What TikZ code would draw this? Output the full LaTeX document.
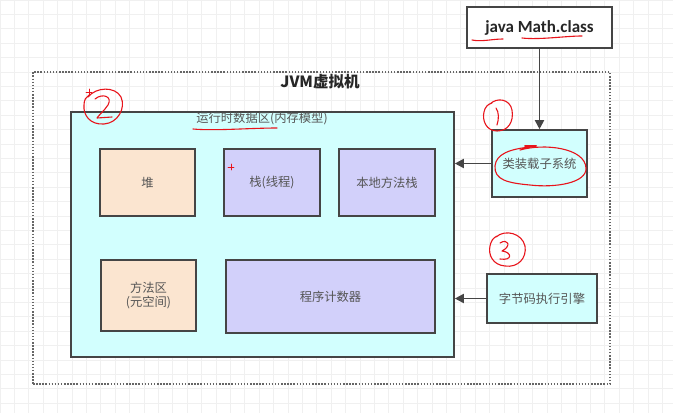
\documentclass[tikz,border=0pt]{standalone}
\usepackage{fontspec}
\setmainfont{Noto Sans CJK SC}
\newfontfamily\latinbold{Carlito}
\usetikzlibrary{arrows.meta}
\definecolor{bordc}{HTML}{454545}
\definecolor{cyanf}{HTML}{D2FFFE}
\definecolor{peachf}{HTML}{FBE5D0}
\definecolor{lavf}{HTML}{D2D0FA}
\definecolor{txtc}{HTML}{555555}
\definecolor{gridc}{HTML}{F0F0F0}
\definecolor{redc}{HTML}{E8141B}
\tikzset{
  box/.style={draw=bordc, line width=1.6pt, inner sep=0pt, font=\fontsize{12.3}{14.5}\selectfont, text=txtc, align=center},
  arr/.style={draw=bordc, line width=1.8pt, -{Triangle[length=9pt,width=9pt]}},
  redpen/.style={draw=redc, line width=1.1pt, line cap=round, line join=round},
}
\begin{document}
\begin{tikzpicture}[x=1pt,y=-1pt]
\useasboundingbox (0,0) rectangle (673,413);
\fill[white] (0,0) rectangle (673,413);
\draw[gridc, line width=0.8pt, step=14.4pt] (0,0) grid (673,413);

% JVM dotted frame
\node[draw=gray!80!black, line width=1.6pt, dash pattern=on 1.5pt off 1.6pt, minimum width=577pt, minimum height=312pt, inner sep=0pt] (jvm) at (321.5,228) {};
\node[font=\bfseries\fontsize{15.5}{17}\selectfont, text=black!85] (jvmlbl) at (320,82) {JVM虚拟机};

% runtime data area
\node[box, fill=cyanf, minimum width=383pt, minimum height=245pt] (rt) at (262.5,234.5) {};
\node[font=\fontsize{12.3}{14}\selectfont, text=txtc] (rtlbl) at (262,119) {运行时数据区(内存模型)};

\node[box, fill=peachf, minimum width=95pt, minimum height=67pt] (heap) at (147.5,182.5) {堆};
\node[box, fill=lavf, minimum width=96pt, minimum height=67pt] (stack) at (272,182.5) {栈(线程)};
\node[box, fill=lavf, minimum width=96pt, minimum height=67pt] (native) at (387,182.5) {本地方法栈};
\node[box, fill=peachf, minimum width=95pt, minimum height=71pt] (method) at (148.5,295.5) {方法区\\(元空间)};
\node[box, fill=lavf, minimum width=209pt, minimum height=73pt] (pc) at (330.5,296.5) {程序计数器};

% right side boxes
\node[box, fill=white, minimum width=145pt, minimum height=41pt, font=\latinbold\bfseries\fontsize{17}{19}\selectfont, text=black!85] (jm) at (539.5,27.5) {java Math.class};
\node[box, fill=cyanf, minimum width=95pt, minimum height=67pt] (cl) at (539.5,163.5) {类装载子系统};
\node[box, fill=cyanf, minimum width=110pt, minimum height=49pt] (be) at (542,298.5) {字节码执行引擎};

% arrows
\draw[arr] (jm.south -| cl.north) -- (cl.north);
\draw[arr] (cl.west) -- (cl.west -| rt.east);
\draw[arr] (be.west) -- (be.west -| rt.east);

% red annotations
\draw[redpen] (472,40) .. controls (482,42) and (492,39) .. (503,39);
\draw[redpen] (522,38) .. controls (540,40) and (565,36) .. (582,36);
\draw[redpen] (193,129) .. controls (215,131) and (250,128) .. (277,128);
\draw[redpen, line width=0.9pt] (228,167) -- (234,167) (231,164) -- (231,170);
% circle 1
\draw[redpen] (490,104) .. controls (497,97) and (510,99) .. (512,110) .. controls (514,122) and (508,131) .. (497,131) .. controls (486,131) and (482,120) .. (484,112) .. controls (485,107) and (488,104) .. (492,103);
\draw[redpen] (496,108) .. controls (499,112) and (499,119) .. (497,125);
% circle 2
\draw[redpen] (88,97) .. controls (96,87) and (115,86) .. (121,97) .. controls (126,108) and (118,123) .. (104,124) .. controls (90,125) and (83,115) .. (84,105) .. controls (84,100) and (86,97) .. (89,95);
\draw[redpen] (95,99) .. controls (102,93) and (113,96) .. (108,105) .. controls (104,111) and (98,116) .. (97,118) -- (112,117);
\draw[redpen, line width=0.8pt] (86,92) -- (92,92) (89,89) -- (89,95);
% circle 3
\draw[redpen] (496,237) .. controls (505,229) and (522,233) .. (525,246) .. controls (527,258) and (518,268) .. (505,266) .. controls (493,265) and (488,255) .. (490,246) .. controls (491,241) and (493,238) .. (497,236);
\draw[redpen] (500,243) .. controls (508,238) and (512,246) .. (502,251) .. controls (512,252) and (513,261) .. (500,259);
% ellipse around class loader text
\draw[redpen] (520,150) .. controls (545,143) and (585,148) .. (586,168) .. controls (587,183) and (555,188) .. (530,185) .. controls (508,183) and (494,180) .. (495,166) .. controls (496,154) and (510,149) .. (530,147);
\draw[redpen, line width=2pt] (525,146) -- (536,146);
\end{tikzpicture}
\end{document}
